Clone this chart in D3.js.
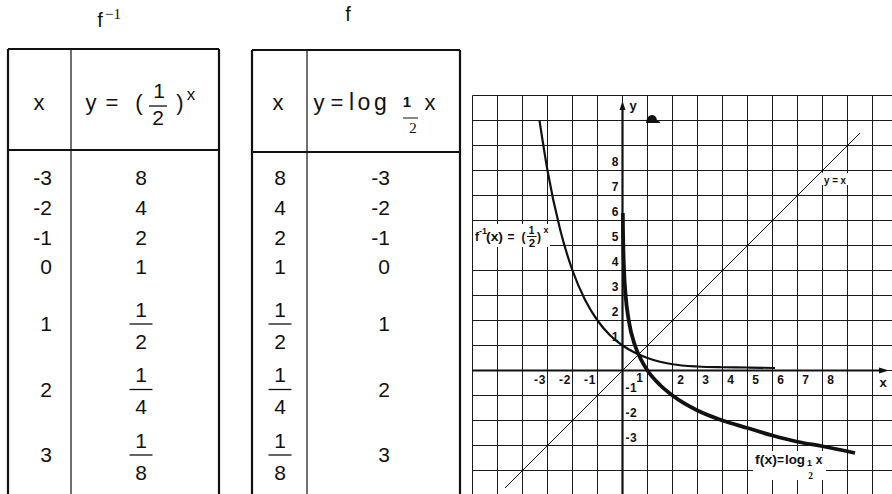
<!DOCTYPE html>
<html>
<head>
<meta charset="utf-8">
<script src="https://cdn.jsdelivr.net/npm/d3@7"></script>
<style>
body { margin: 0; background: #fff; }
svg { display: block; }
text { font-family: "Liberation Sans", Arial, sans-serif; fill: #111; }
</style>
</head>
<body>
<div id="chart"></div>
<script>
// values of the two tables
let tableX = [-3, -2, -1, 0, 1, 2, 3]
let expValues = ["8", "4", "2", "1", "1/2", "1/4", "1/8"]
let logInputs = ["8", "4", "2", "1", "1/2", "1/4", "1/8"]
let logValues = [-3, -2, -1, 0, 1, 2, 3]

// points
let expCurveX = [-3.32, -3, -2.5, -2, -1.5, -1, -0.5, 0, 0.5, 1, 1.5, 2, 3, 4, 5, 6.1]
let expCurveY = [10, 8, 5.66, 4, 2.83, 2, 1.41, 1, 0.71, 0.5, 0.35, 0.25, 0.16, 0.13, 0.12, 0.1]
let logCurveX = [0.013, 0.0156, 0.031, 0.0625, 0.125, 0.25, 0.5, 0.75, 1, 1.5, 2, 3, 4, 5, 6, 7, 8, 9.3]
let logCurveY = [6.3, 6, 5, 4, 3, 2, 1, 0.42, 0, -0.58, -1, -1.6, -2, -2.3, -2.6, -2.85, -3.03, -3.3]
let identityX = [-4.7, 9.5]

let xTicks = [-3, -2, -1, 1, 2, 3, 4, 5, 6, 7, 8]
let yTicksPos = [1, 2, 3, 4, 5, 6, 7, 8]
let yTicksNeg = [-1, -2, -3]

let width = 892, height = 494

let svg = d3.select("#chart")
    .append("svg")
    .attr("width", width)
    .attr("height", height)

// ---------- tables ----------
function rowY(i) {
    return i < 4 ? 178 + 29.7 * i : 324 + 65.5 * (i - 4)
}

function cell(g, value, cx, cy, anchor) {
    let s = String(value)
    if (s.includes("/")) {
        let parts = s.split("/")
        g.append("text").attr("x", cx).attr("y", cy - 14.5).attr("dy", "0.35em")
            .attr("text-anchor", "middle").style("font-size", "21px").text(parts[0])
        g.append("line").attr("x1", cx - 11.5).attr("x2", cx + 11.5).attr("y1", cy).attr("y2", cy)
            .attr("stroke", "#111").attr("stroke-width", 1.3)
        g.append("text").attr("x", cx).attr("y", cy + 17.5).attr("dy", "0.35em")
            .attr("text-anchor", "middle").style("font-size", "21px").text(parts[1])
    } else {
        g.append("text").attr("x", cx).attr("y", cy).attr("dy", "0.35em")
            .attr("text-anchor", anchor).style("font-size", "21px").text(s)
    }
}

function drawTable(left, divider, right, top, headBottom, colA, colB, posA, posB) {
    let g = svg.append("g")
    g.append("line").attr("x1", left).attr("x2", left).attr("y1", top).attr("y2", height)
        .attr("stroke", "#111").attr("stroke-width", 2.2)
    g.append("line").attr("x1", right).attr("x2", right).attr("y1", top).attr("y2", height)
        .attr("stroke", "#111").attr("stroke-width", 2.2)
    g.append("line").attr("x1", divider).attr("x2", divider).attr("y1", top).attr("y2", height)
        .attr("stroke", "#111").attr("stroke-width", 1.2)
    g.append("line").attr("x1", left).attr("x2", right).attr("y1", top).attr("y2", top)
        .attr("stroke", "#111").attr("stroke-width", 2.2)
    g.append("line").attr("x1", left).attr("x2", right).attr("y1", headBottom).attr("y2", headBottom)
        .attr("stroke", "#111").attr("stroke-width", 2.2)

    colA.forEach((v, i) => cell(g, v, posA.x, rowY(i), posA.anchor))
    colB.forEach((v, i) => cell(g, v, posB.x, rowY(i), posB.anchor))
    return g
}

let leftTable = drawTable(8, 71, 219, 49, 150, tableX, expValues,
    {x: 52, anchor: "end"}, {x: 141, anchor: "middle"})
let rightTable = drawTable(252, 307, 460, 50, 152, logInputs, logValues,
    {x: 280, anchor: "middle"}, {x: 390, anchor: "end"})

function put(g, str, x, y, size, anchor, len) {
    let t = g.append("text").attr("x", x).attr("y", y)
        .attr("text-anchor", anchor || "middle")
        .style("font-size", size + "px")
        .text(str)
    if (len) t.attr("textLength", len).attr("lengthAdjust", "spacingAndGlyphs")
    return t
}

// headers
put(leftTable, "x", 39, 110, 22)
put(leftTable, "y", 91, 110, 22)
put(leftTable, "=", 112, 110, 22)
put(leftTable, "(", 139, 110, 22)
put(leftTable, "1", 159, 98, 21)
leftTable.append("line").attr("x1", 149).attr("x2", 167).attr("y1", 106).attr("y2", 106)
    .attr("stroke", "#111").attr("stroke-width", 1.3)
put(leftTable, "2", 158, 125, 21)
put(leftTable, ")", 180, 110, 22)
put(leftTable, "x", 191, 100, 17)

put(rightTable, "x", 278, 110, 22)
put(rightTable, "y", 319, 110, 22)
put(rightTable, "=", 337, 110, 22)
put(rightTable, "log", 349, 110, 23, "start").style("letter-spacing", "3.5px")
put(rightTable, "1", 407, 107, 15).style("font-weight", "bold")
rightTable.append("line").attr("x1", 403).attr("x2", 418).attr("y1", 118).attr("y2", 118)
    .attr("stroke", "#111").attr("stroke-width", 1)
put(rightTable, "2", 413, 133, 15).style("font-family", "Liberation Serif, serif")
put(rightTable, "x", 430, 110, 22)

// titles
put(svg, "f", 100, 27, 20)
put(svg, "\u22121", 105, 19, 15, "start").style("font-family", "Liberation Serif, serif")
put(svg, "f", 348, 21, 20)

// ---------- graph ----------
let x = d3.scaleLinear().domain([-6, 10]).range([472.5, 872.5])
let y = d3.scaleLinear().domain([-5, 11]).range([495.5, 95.5])

let graph = svg.append("g")

graph.append("g").selectAll("line")
    .data(x.ticks(16))
    .enter().append("line")
    .attr("x1", d => x(d)).attr("x2", d => x(d))
    .attr("y1", y(11)).attr("y2", height)
    .attr("stroke", "#1a1a1a").attr("stroke-width", 1)

graph.append("g").selectAll("line")
    .data(y.ticks(16).filter(d => d > -5))
    .enter().append("line")
    .attr("x1", x(-6)).attr("x2", width)
    .attr("y1", d => y(d)).attr("y2", d => y(d))
    .attr("stroke", "#1a1a1a").attr("stroke-width", 1)

// axes lines with arrows
graph.append("line").attr("x1", x(-6)).attr("x2", 884).attr("y1", y(0)).attr("y2", y(0))
    .attr("stroke", "#111").attr("stroke-width", 2.2)
graph.append("path").attr("d", `M889,${y(0)} L879,${y(0) - 3} L879,${y(0) + 3} Z`).attr("fill", "#111")
graph.append("line").attr("x1", x(0)).attr("x2", x(0)).attr("y1", height).attr("y2", 106)
    .attr("stroke", "#111").attr("stroke-width", 2.2)
graph.append("path").attr("d", `M${x(0)},101 L${x(0) - 3},110 L${x(0) + 3},110 Z`).attr("fill", "#111")

// blot near the y arrow
graph.append("path").attr("d", "M646,123 Q647,115 652,115 Q656,115 657,120 L660,122 L660,123 Z").attr("fill", "#111")

// tick labels through axes
let tickFont = g => g.selectAll("text")
    .style("font-size", "12px").style("font-weight", "bold")
    .style("font-family", "Liberation Sans, Arial, sans-serif").attr("fill", "#111")

let xAxis = graph.append("g")
    .attr("transform", `translate(0,${y(0)})`)
    .call(d3.axisBottom(x).tickValues(xTicks).tickSize(0).tickFormat(d => String(d)))
xAxis.select(".domain").remove()
xAxis.selectAll("text")
    .attr("x", d => d < 0 ? -8 : (d == 1 ? -8 : 8))
    .attr("y", d => d == 1 ? 7 : 9.5)
    .attr("dy", "0.35em")
    .style("letter-spacing", "0.6px")
xAxis.call(tickFont)

let yAxisL = graph.append("g")
    .attr("transform", `translate(${x(0)},0)`)
    .call(d3.axisLeft(y).tickValues(yTicksPos).tickSize(0).tickFormat(d => String(d)))
yAxisL.select(".domain").remove()
yAxisL.selectAll("text").attr("x", -4).attr("y", -9).attr("dy", "0.35em")
yAxisL.call(tickFont)

let yAxisR = graph.append("g")
    .attr("transform", `translate(${x(0)},0)`)
    .call(d3.axisRight(y).tickValues(yTicksNeg).tickSize(0).tickFormat(d => String(d)))
yAxisR.select(".domain").remove()
yAxisR.selectAll("text").attr("x", 3).attr("y", -8.5).attr("dy", "0.35em")
    .style("letter-spacing", "0.6px")
yAxisR.call(tickFont)

graph.append("text").attr("x", 633).attr("y", 110).attr("text-anchor", "middle")
    .style("font-size", "13px").style("font-weight", "bold").text("y")
graph.append("text").attr("x", 883).attr("y", 387).attr("text-anchor", "middle")
    .style("font-size", "13px").style("font-weight", "bold").text("x")

// lines
let line = d3.line().x(d => x(d[0])).y(d => y(d[1])).curve(d3.curveMonotoneX)

graph.append("path")
    .datum(identityX.map(v => [v, v]))
    .attr("d", d3.line().x(d => x(d[0])).y(d => y(d[1])))
    .attr("fill", "none").attr("stroke", "#111").attr("stroke-width", 1)

graph.append("path")
    .datum(expCurveX.map((v, i) => [v, expCurveY[i]]))
    .attr("d", line)
    .attr("fill", "none").attr("stroke", "#111").attr("stroke-width", 2.2)

graph.append("path")
    .datum(logCurveX.map((v, i) => [v, logCurveY[i]]))
    .attr("d", line)
    .attr("fill", "none").attr("stroke", "#111").attr("stroke-width", 3.8)

// curve labels
let lab = graph.append("g").style("font-weight", "bold")

lab.append("rect").attr("x", 473).attr("y", 224).attr("width", 77).attr("height", 23).attr("fill", "#fff")
put(lab, "f", 475, 241, 12, "start")
put(lab, "-1", 479, 234, 9, "start")
put(lab, "(x)", 486, 241, 12, "start", 17)
put(lab, "=", 511, 241, 12)
put(lab, "(", 523.5, 241, 12)
put(lab, "1", 531.5, 234, 10)
lab.append("line").attr("x1", 527).attr("x2", 536.5).attr("y1", 236.5).attr("y2", 236.5)
    .attr("stroke", "#111").attr("stroke-width", 1)
put(lab, "2", 532, 246.5, 11.5)
put(lab, ")", 539, 241, 12)
put(lab, "x", 546, 233, 9)

lab.append("rect").attr("x", 822).attr("y", 173).attr("width", 26).attr("height", 12).attr("fill", "#fff")
put(lab, "y = x", 824, 184, 10, "start", 22)

lab.append("rect").attr("x", 753).attr("y", 451).attr("width", 73).attr("height", 29).attr("fill", "#fff")
put(lab, "f(x)", 755, 464, 12, "start", 22)
put(lab, "=", 780.5, 464, 12)
put(lab, "log", 785, 464, 12, "start", 20)
put(lab, "1", 809.5, 465.5, 9)
put(lab, "2", 810.5, 479, 9.5).style("font-family", "Liberation Serif, serif")
put(lab, "x", 819, 464, 12)
</script>
</body>
</html>
